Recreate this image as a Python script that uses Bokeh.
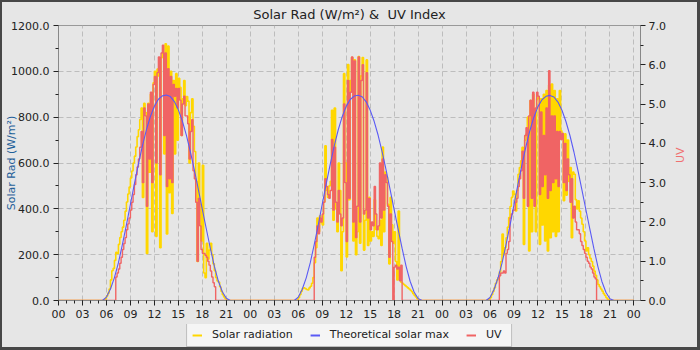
import math
from bokeh.plotting import figure
from bokeh.layouts import column
from bokeh.models import (Range1d, LinearAxis, FixedTicker, PrintfTickFormatter,
                          Legend, LegendItem)
from bokeh.embed import file_html
from bokeh.resources import INLINE

# ---- data -----------------------------------------------------------------
# Measured series: 10-minute samples from 05:00 to 22:00 for each of three days
SAMPLE_START_H = 5.0
SAMPLE_STEP_H = 1.0 / 6.0

solar_day1 = [
    0, 0, 0, 0, 3, 8,                      # 05
    20, 32, 50, 90, 130, 140,              # 06
    175, 210, 205, 245, 275, 300,          # 07
    320, 350, 390, 430, 465, 495,          # 08
    535, 565, 600, 630, 670, 715,          # 09
    745, 790, 840, 450, 860, 820,          # 10
    205, 860, 560, 900, 300, 950,          # 11
    1000, 280, 1010, 980, 230, 1060,       # 12
    1080, 640, 1120, 290, 1110, 470,       # 13
    1000, 380, 960, 640, 990, 700,         # 14
    970, 930, 720, 880, 960, 850,          # 15
    890, 870, 600, 820, 880, 760,          # 16
    650, 520, 170, 600, 420, 260,          # 17
    590, 120, 100, 250, 180, 220,          # 18
    250, 200, 160, 130, 100, 85,           # 19
    80, 60, 40, 25, 15, 8,                 # 20
    3, 0, 0, 0, 0, 0,                      # 21
    0,
]
solar_day2 = [
    0, 0, 0, 0, 0, 3,                      # 05
    12, 25, 40, 52, 55, 52,                # 06
    48, 46, 55, 62, 75, 100,               # 07
    165, 230, 360, 300, 370, 340,          # 08
    330, 430, 675, 480, 450, 500,          # 09
    520, 830, 350, 840, 400, 300,          # 10
    600, 480, 130, 300, 990, 600,          # 11
    190, 1030, 440, 960, 1060, 260,        # 12
    1050, 200, 300, 1065, 250, 980,        # 13
    1060, 220, 350, 1050, 240, 450,        # 14
    260, 300, 280, 440, 310, 280,          # 15
    270, 350, 240, 670, 300, 560,          # 16
    540, 420, 160, 450, 330, 250,          # 17
    300, 170, 90, 390, 110, 80,            # 18
    75, 70, 65, 60, 55, 50,                # 19
    45, 38, 30, 22, 15, 8,                 # 20
    3, 0, 0, 0, 0, 0,                      # 21
    0,
]
solar_day3 = [
    0, 0, 0, 0, 3, 6,                      # 05
    12, 25, 40, 55, 75, 90,                # 06
    100, 125, 170, 290, 200, 230,          # 07
    274, 320, 362, 410, 450, 478,          # 08
    464, 391, 480, 551, 580, 610,          # 09
    668, 245, 700, 727, 800, 216,          # 10
    872, 300, 900, 540, 300, 880,          # 11
    887, 245, 880, 330, 900, 260,          # 12
    916, 216, 940, 274, 945, 300,          # 13
    916, 280, 880, 300, 916, 741,          # 14
    730, 435, 727, 460, 700, 520,          # 15
    580, 274, 560, 551, 440, 400,          # 16
    435, 390, 360, 333, 300, 260,          # 17
    216, 230, 200, 184, 170, 150,          # 18
    128, 110, 90, 70, 60, 50,              # 19
    41, 30, 22, 12, 6, 3,                  # 20
    0, 0, 0, 0, 0, 0,                      # 21
    0,
]

uv_day1 = [
    0, 0, 0, 0, 0, 0,                      # 05
    0, 0, 0, 0, 0, 0,                      # 06
    0, 0.6, 0.7, 0.8, 0.95, 1.1,           # 07
    1.3, 1.45, 1.6, 1.8, 1.95, 2.1,        # 08
    2.3, 2.5, 2.7, 2.95, 3.2, 3.4,         # 09
    3.6, 3.9, 4.3, 3.0, 4.9, 4.7,          # 10
    2.4, 5.0, 3.6, 5.3, 3.0, 5.5,          # 11
    5.7, 3.5, 5.8, 6.2, 3.2, 6.3,          # 12
    6.5, 4.2, 6.3, 2.9, 5.9, 3.1,          # 13
    5.7, 3.0, 5.5, 5.2, 5.4, 4.9,          # 14
    5.4, 5.1, 4.2, 5.0, 5.2, 4.7,          # 15
    4.7, 4.5, 3.6, 4.3, 4.6, 3.3,          # 16
    3.1, 2.5, 1.0, 2.6, 1.9, 1.3,          # 17
    1.2, 1.2, 1.15, 1.1, 1.0, 0.9,         # 18
    0.75, 0.6, 0.45, 0.35, 0, 0,           # 19
    0, 0, 0, 0, 0, 0,                      # 20
    0, 0, 0, 0, 0, 0,                      # 21
    0,
]
uv_day2 = [
    0, 0, 0, 0, 0, 0,                      # 05
    0, 0, 0, 0, 0, 0,                      # 06
    0, 0, 0, 0, 0, 0,                      # 07
    1.1, 1.5, 1.9, 1.7, 2.1, 2.0,          # 08
    2.2, 2.5, 3.1, 2.9, 2.7, 2.6,          # 09
    2.8, 4.1, 2.3, 3.9, 2.5, 2.0,          # 10
    2.8, 2.2, 1.9, 2.1, 5.0, 3.0,          # 11
    1.5, 5.6, 2.6, 5.3, 6.2, 2.0,          # 12
    6.1, 1.6, 2.4, 6.2, 2.0, 5.6,          # 13
    6.0, 2.2, 2.3, 5.8, 2.1, 2.6,          # 14
    1.8, 2.0, 1.9, 2.9, 2.2, 1.8,          # 15
    1.9, 3.5, 2.1, 3.6, 2.3, 3.2,          # 16
    3.0, 2.4, 1.1, 2.2, 1.5, 0,            # 17
    0.85, 0.9, 0.8, 0.85, 0.5, 0.9,        # 18
    0, 0, 0, 0, 0, 0,                      # 19
    0, 0, 0, 0, 0, 0,                      # 20
    0, 0, 0, 0, 0, 0,                      # 21
    0,
]
uv_day3 = [
    0, 0, 0, 0, 0, 0,                      # 05
    0, 0, 0, 0, 0, 0,                      # 06
    0, 0.63, 0.7, 0.7, 0.75, 0.7,          # 07
    1.2, 1.3, 1.5, 2.1, 2.2, 2.3,          # 08
    2.3, 2.5, 2.6, 2.9, 3.1, 3.3,          # 09
    3.8, 2.6, 4.2, 4.4, 2.4, 4.7,          # 10
    5.1, 2.6, 5.3, 2.4, 4.9, 5.3,          # 11
    5.2, 2.7, 4.8, 2.9, 4.2, 3.2,          # 12
    4.9, 2.6, 5.85, 2.8, 4.7, 3.0,         # 13
    4.7, 3.1, 4.3, 2.9, 4.3, 4.1,          # 14
    4.25, 3.0, 4.0, 2.8, 3.6, 3.2,         # 15
    2.5, 3.1, 2.1, 2.4, 2.0, 1.8,          # 16
    1.8, 1.7, 1.5, 1.4, 1.3, 1.2,          # 17
    1.1, 1.0, 0.95, 0.85, 0.8, 0.7,        # 18
    0.6, 0.55, 0, 0, 0, 0,                 # 19
    0, 0, 0, 0, 0, 0,                      # 20
    0, 0, 0, 0, 0, 0,                      # 21
    0,
]

# Theoretical clear-sky maximum: 30-minute values from 05:00 to 22:00
THEORY_START_H = 5.0
THEORY_STEP_H = 0.5
theory_day1 = [0, 0, 15, 50, 100, 165, 245, 330, 420, 510, 595, 675, 745, 803,
               848, 878, 893, 897, 890, 868, 832, 783, 722, 650, 570, 485, 398,
               312, 228, 150, 85, 38, 10, 0, 0]
theory_day2 = [0, 0, 14, 49, 99, 164, 244, 329, 419, 509, 594, 674, 744, 802,
               847, 877, 892, 896, 889, 867, 831, 782, 721, 649, 569, 484, 397,
               311, 227, 149, 84, 37, 9, 0, 0]
theory_day3 = [0, 0, 13, 48, 98, 163, 243, 328, 418, 508, 593, 673, 743, 801,
               846, 876, 891, 895, 888, 866, 830, 781, 720, 648, 568, 483, 396,
               310, 226, 148, 83, 36, 8, 0, 0]

hour_ticks = list(range(0, 73, 3))
hour_labels = {t: f"{t % 24:02d}" for t in hour_ticks}
solar_ticks = [0, 200, 400, 600, 800, 1000, 1200]
uv_ticks = [0, 1, 2, 3, 4, 5, 6, 7]
TOTAL_H = 72.0


def timeline(days, start, step):
    """Join the daily sample lists into one series with zero nights between."""
    xs, ys = [0.0], [0.0]
    for d, vals in enumerate(days):
        for i, v in enumerate(vals):
            xs.append(24 * d + start + i * step)
            ys.append(v)
    xs.append(TOTAL_H)
    ys.append(0.0)
    return xs, ys


solar_x, solar_y = timeline([solar_day1, solar_day2, solar_day3], SAMPLE_START_H, SAMPLE_STEP_H)
uv_x, uv_y = timeline([uv_day1, uv_day2, uv_day3], SAMPLE_START_H, SAMPLE_STEP_H)
th_x, th_y = timeline([theory_day1, theory_day2, theory_day3], THEORY_START_H, THEORY_STEP_H)

# ---- styling constants ----------------------------------------------------
FONT = "DejaVu Sans"
BG = "#e6e6e6"
SOLAR_COLOR = "#ffd700"
THEORY_COLOR = "#5a5af5"
UV_COLOR = "#f06464"

# ---- main chart -----------------------------------------------------------
p = figure(width=695, height=322,
           x_range=Range1d(0, 72.83), y_range=Range1d(0, 1200),
           output_backend="svg", toolbar_location=None,
           title="Solar Rad (W/m²) &\u00a0 UV Index",
           min_border_left=53, min_border_right=57,
           min_border_top=22, min_border_bottom=24,
           background_fill_color=BG, border_fill_color=BG,
           outline_line_color="#999999")

p.title.align = "center"
p.title.vertical_align = "middle"
p.title.text_font = FONT
p.title.text_font_size = "13px"
p.title.text_font_style = "normal"
p.title.text_color = "#222222"
p.title.standoff = 6

p.extra_y_ranges = {"uv": Range1d(0, 7)}
uv_axis = LinearAxis(y_range_name="uv")
p.add_layout(uv_axis, "right")

p.xaxis.ticker = FixedTicker(ticks=hour_ticks, minor_ticks=list(range(0, 73)))
p.xaxis.major_label_overrides = hour_labels
solar_axis = p.yaxis[0]
solar_axis.ticker = FixedTicker(ticks=solar_ticks,
                                minor_ticks=[100, 300, 500, 700, 900, 1100])
uv_axis.ticker = FixedTicker(ticks=uv_ticks,
                             minor_ticks=[0.5, 1.5, 2.5, 3.5, 4.5, 5.5, 6.5])
for ax in [solar_axis, uv_axis]:
    ax.formatter = PrintfTickFormatter(format="%.1f")

for ax in p.xaxis + p.yaxis:
    ax.axis_line_color = "#888888"
    ax.major_tick_line_color = "#222222"
    ax.minor_tick_line_color = "#222222"
    ax.major_tick_out = 5
    ax.major_tick_in = 0
    ax.minor_tick_out = 3
    ax.minor_tick_in = 0
    ax.major_label_text_font = FONT
    ax.major_label_text_font_size = "11px"
    ax.major_label_text_color = "#222222"
    ax.axis_label_text_font = FONT
    ax.axis_label_text_font_size = "11px"
    ax.axis_label_text_font_style = "normal"
solar_axis.major_label_standoff = 4
uv_axis.major_label_standoff = 3
p.xaxis.major_label_standoff = 4

# axis titles tucked close to the tick labels, both reading bottom-to-top
solar_axis.axis_label = "Solar Rad (W/m²)"
solar_axis.axis_label_text_color = "#1f5f99"
solar_axis.axis_label_standoff = -10
uv_axis.axis_label = "UV"
uv_axis.axis_label_text_color = "#f07070"
uv_axis.axis_label_standoff = 12
uv_axis.axis_label_orientation = math.pi / 2

p.xgrid.ticker = FixedTicker(ticks=hour_ticks)
p.ygrid.ticker = FixedTicker(ticks=solar_ticks)
for g in [p.xgrid[0], p.ygrid[0]]:
    g.grid_line_color = "#bdbdbd"
    g.grid_line_dash = "5 3"
    g.grid_line_width = 1

p.step(solar_x, solar_y, mode="after", line_color=SOLAR_COLOR, line_width=1.6)
p.step(uv_x, uv_y, mode="after", line_color=UV_COLOR, line_width=1.4,
       y_range_name="uv")
p.line(th_x, th_y, line_color=THEORY_COLOR, line_width=1.1)

# ---- legend strip under the chart -----------------------------------------
key = figure(width=695, height=23, x_range=Range1d(0, 1), y_range=Range1d(0, 1),
             output_backend="svg", toolbar_location=None,
             x_axis_type=None, y_axis_type=None,
             min_border=0, min_border_left=0, min_border_right=0,
             min_border_top=0, min_border_bottom=0,
             background_fill_color=BG, border_fill_color=BG,
             outline_line_color=None)
key.xgrid.visible = False
key.ygrid.visible = False
# sample renderers sit outside the visible range; only their legend swatches show
k_solar = key.line([-5, -4], [-5, -4], line_color=SOLAR_COLOR, line_width=2)
k_theory = key.line([-5, -4], [-5, -4], line_color=THEORY_COLOR, line_width=2)
k_uv = key.line([-5, -4], [-5, -4], line_color=UV_COLOR, line_width=2)

legend = Legend(items=[
    LegendItem(label="Solar radiation", renderers=[k_solar]),
    LegendItem(label="Theoretical solar max", renderers=[k_theory]),
    LegendItem(label="UV", renderers=[k_uv]),
], orientation="horizontal", location="bottom_center")
legend.label_text_font = FONT
legend.label_text_font_size = "11px"
legend.label_text_color = "#222222"
legend.glyph_width = 10
legend.glyph_height = 12
legend.label_height = 12
legend.label_standoff = 10
legend.spacing = 17
legend.padding = 5
legend.margin = 0
legend.background_fill_color = "#f5f5f5"
legend.background_fill_alpha = 1.0
legend.border_line_color = "#888888"
key.add_layout(legend)

page = column(p, key, spacing=0)
page.styles = {"border-style": "solid", "border-color": "#474747",
               "border-width": "2px 3px 3px 2px", "background-color": BG}

open("out.html", "w").write(file_html(page, INLINE))
